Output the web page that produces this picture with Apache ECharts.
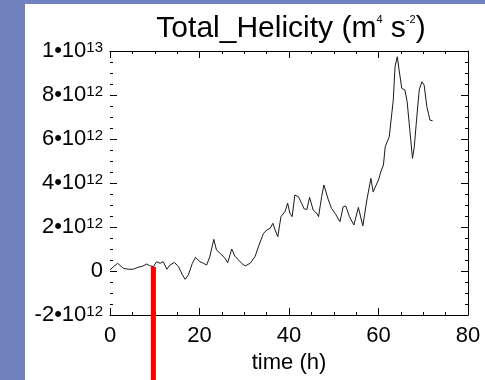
<!DOCTYPE html>
<html>
<head>
<meta charset="utf-8">
<script src="https://cdn.jsdelivr.net/npm/echarts@6/dist/echarts.min.js"></script>
<style>
  html, body { margin: 0; padding: 0; background: #7082bf; }
  #chart { position: absolute; left: 25px; top: 4px; width: 460px; height: 376px; background: #fff; }
</style>
</head>
<body>
<div id="chart"></div>
<script>
// time in hours, helicity in units of 1e12 m^4 s^-2
const timeHours = [
  0, 0.8, 1.7, 3.0, 4.1, 5.2, 6.3, 7.3, 8.2, 8.9, 9.7, 10.4, 11.2, 11.9, 12.7, 13.4, 14.4, 15.3,
  16.2, 16.8, 17.5, 18.4, 19.1, 20.1, 20.9, 21.6, 22.3, 23.2, 23.8, 25.0, 25.7, 26.3, 27.2, 27.9,
  28.7, 29.4, 30.2, 31.3, 32.4, 33.3, 34.3, 35.0, 35.8, 36.4, 36.9, 37.5, 38.2, 39.1, 39.7, 40.2,
  40.7, 41.3, 42.1, 42.8, 43.4, 44.0, 44.6, 45.4, 46.2, 46.6, 47.3, 47.8, 48.8, 49.5, 50.3, 51.4,
  52.1, 52.7, 53.5, 54.5, 55.5, 56.5, 57.4, 58.3, 58.8, 60.0, 60.5, 61.1, 61.5, 62.4, 63.3, 63.7,
  64.2, 64.6, 65.2, 65.9, 66.4, 67.0, 67.6, 68.0, 68.5, 69.1, 69.7, 70.2, 70.8, 71.5, 72.1
];
const helicity = [
  0.05, 0.2, 0.35, 0.12, 0.08, 0.08, 0.17, 0.22, 0.32, 0.24, 0.2, 0.42, 0.35, 0.42, 0.08, 0.27, 0.39, 0.2,
  -0.18, -0.38, -0.18, 0.35, 0.62, 0.42, 0.35, 0.27, 0.65, 1.44, 0.95, 0.73, 0.58, 0.38, 1.0, 0.68,
  0.5, 0.35, 0.23, 0.35, 0.65, 1.18, 1.71, 1.86, 1.94, 2.17, 1.86, 1.56, 2.47, 2.7, 3.08, 2.62,
  2.47, 3.45, 3.38, 3.08, 2.82, 2.8, 3.35, 2.77, 2.62, 2.47, 3.38, 3.91, 3.23, 2.85, 2.62, 2.24,
  2.92, 2.95, 2.47, 2.09, 2.89, 2.05, 3.23, 4.21, 3.6, 4.14, 4.5, 4.82, 5.65, 6.1, 7.77, 9.29,
  9.74, 9.14, 8.3, 8.23, 7.7, 6.41, 5.12, 5.65, 6.86, 8.23, 8.6, 8.45, 7.47, 6.86, 6.83
];

// red marker line: time, top value, bottom value (extends below plot)
const markerTime = 9.7;
const markerValues = [0.2, -4.95];

// y tick labels (value -> mantissa, exponent)
const yTickValues = [-2, 0, 2, 4, 6, 8, 10];
const yTickBase = ['-2•10', '0', '2•10', '4•10', '6•10', '8•10', '1•10'];
const yTickExp = ['12', '', '12', '12', '12', '12', '13'];

const chart = echarts.init(document.getElementById('chart'));

const font = 'Liberation Sans, Arial, sans-serif';
const axisLine = { show: true, onZero: false, lineStyle: { color: '#000', width: 1 } };
const axisTick = { show: true, inside: true, length: 7, lineStyle: { color: '#000' } };
const minorTick = { show: true, splitNumber: 4, length: 3, lineStyle: { color: '#000' } };

const option = {
  animation: false,
  backgroundColor: '#fff',
  title: {
    text: 'Total_Helicity (m{s|4} s{s|-2})',
    left: 266,
    textAlign: 'center',
    top: 10,
    padding: 0,
    textStyle: {
      fontFamily: font,
      fontSize: 30,
      fontWeight: 'normal',
      color: '#000',
      lineHeight: 30,
      rich: {
        s: { fontFamily: font, fontSize: 11, lineHeight: 11, verticalAlign: 'top', color: '#000' }
      }
    }
  },
  grid: [
    { left: 85, right: 17, top: 47, bottom: 65 },
    { left: 85, right: 17, top: 47, bottom: 0 }
  ],
  xAxis: [
    {
      type: 'value', gridIndex: 0, position: 'bottom', min: 0, max: 80, interval: 20,
      axisLine, axisTick, minorTick, splitLine: { show: false },
      axisLabel: { fontFamily: font, fontSize: 22, color: '#000', margin: 10 },
      name: 'time (h)', nameLocation: 'middle', nameGap: 33,
      nameTextStyle: { fontFamily: font, fontSize: 22, color: '#000' }
    },
    {
      type: 'value', gridIndex: 0, position: 'top', min: 0, max: 80, interval: 20,
      axisLine, axisTick, minorTick, splitLine: { show: false },
      axisLabel: { show: false }
    },
    {
      type: 'value', gridIndex: 1, min: 0, max: 80, show: false
    }
  ],
  yAxis: [
    {
      type: 'value', gridIndex: 0, position: 'left', min: -2, max: 10, interval: 2,
      // left spine is not drawn in the original, only its ticks
      axisLine: { show: true, onZero: false, lineStyle: { color: '#000', opacity: 0 } },
      axisTick, minorTick, splitLine: { show: false },
      axisLabel: {
        margin: 7,
        formatter: function (v) {
          const i = yTickValues.indexOf(v);
          if (i < 0) return '';
          if (!yTickExp[i]) return '{b|' + yTickBase[i] + '}';
          return '{b|' + yTickBase[i] + '}{s|' + yTickExp[i] + '}';
        },
        rich: {
          b: { fontFamily: font, fontSize: 22, lineHeight: 22, color: '#000' },
          s: { fontFamily: font, fontSize: 15, lineHeight: 15, verticalAlign: 'top', color: '#000' }
        }
      }
    },
    {
      type: 'value', gridIndex: 0, position: 'right', min: -2, max: 10, interval: 2,
      axisLine, axisTick, minorTick, splitLine: { show: false },
      axisLabel: { show: false }
    },
    {
      type: 'value', gridIndex: 1, min: -4.95, max: 10, show: false
    }
  ],
  series: [
    {
      type: 'line',
      xAxisIndex: 0,
      yAxisIndex: 0,
      data: timeHours.map((t, i) => [t, helicity[i]]),
      showSymbol: false,
      symbol: 'none',
      lineStyle: { color: '#1a1a1a', width: 1 },
      z: 3
    },
    {
      type: 'line',
      xAxisIndex: 2,
      yAxisIndex: 2,
      data: markerValues.map(v => [markerTime, v]),
      symbol: 'none',
      lineStyle: { color: '#ff0000', width: 5 },
      z: 2
    }
  ]
};

chart.setOption(option);
</script>
</body>
</html>
